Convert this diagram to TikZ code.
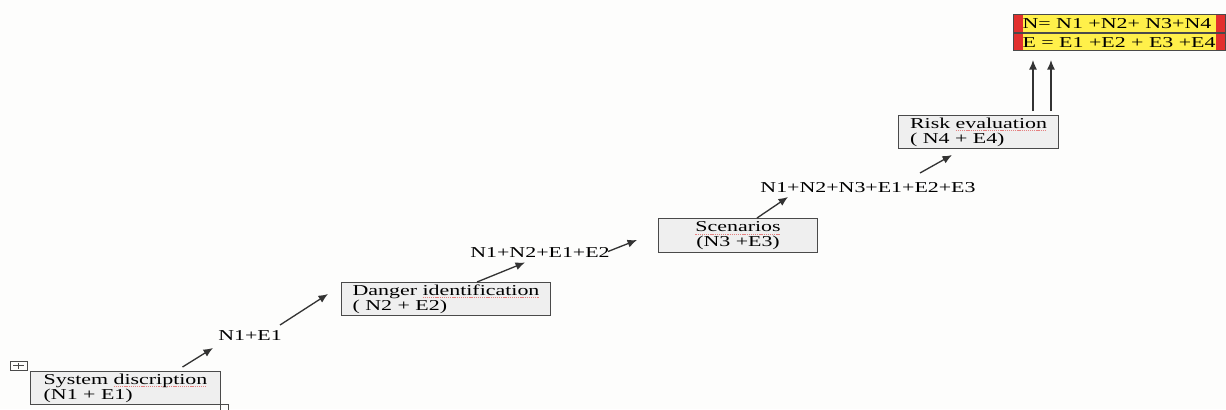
\documentclass[tikz,border=0pt]{standalone}
\usepackage{fontspec}
\setmainfont[FakeStretch=1.45]{Liberation Serif}
\usepackage{xcolor}
\usepackage{tikz}
\usetikzlibrary{arrows.meta,calc}
\definecolor{RBPaper}{HTML}{FDFDFC}
\definecolor{RBBox}{HTML}{EFEFEF}
\definecolor{RBLine}{HTML}{4A4A4A}
\definecolor{RBArrow}{HTML}{333333}
\definecolor{RBRed}{HTML}{E2302E}
\definecolor{RBYellow}{HTML}{FFF04A}
\definecolor{RBSpell}{HTML}{E58080}
\newcommand{\spellerr}[1]{\setbox0\hbox{#1}\rlap{\raisebox{-1.6pt}{\color{RBSpell}%
  \hbox to \wd0{\xleaders\hbox{\rule{0.7pt}{0.35pt}\hskip0.5pt}\hfill}}}\box0}

\begin{document}
\begin{tikzpicture}[x=0.02cm,y=-0.02cm,
  font=\fontsize{8.6pt}{8.5pt}\selectfont,
  stepbox/.style={draw=RBLine,line width=.6pt,fill=RBBox,anchor=north west,
    align=left,inner ysep=0.5pt,minimum height=0.66cm},
  sumlabel/.style={inner sep=0pt},
  resrow/.style={draw=RBLine,line width=.6pt,fill=RBRed,anchor=north west,
    inner xsep=0.18cm,inner ysep=0pt,minimum width=4.24cm,
    path picture={\fill[RBYellow]
      ([xshift=0.18cm]path picture bounding box.south west) rectangle
      ([xshift=-0.2cm]path picture bounding box.north east);}},
  arr/.style={RBArrow,line width=.75pt,-{Latex[length=5.4pt,width=4.6pt]}}]
\path[use as bounding box] (0,0) rectangle (1226,409);
\fill[RBPaper] (0,0) rectangle (1226,409);
\draw[RBLine,line width=.5pt] (10,361) rectangle (27,370);
\draw[RBLine,line width=.5pt] (18.5,362.5) -- (18.5,368.5) (13,365.5) -- (24,365.5);
\draw[RBLine,line width=.5pt] (220,404) rectangle (228,414);
\node[stepbox,minimum width=3.8cm] (sys) at (30,371)
  {System~\spellerr{discription}\\(N1 + E1)};
\node[sumlabel] (lab1) at (250,336) {N1+E1};
\node[stepbox,minimum width=4.18cm] (dang) at (341,282)
  {Danger~\spellerr{identification}\\( N2 + E2)};
\node[sumlabel] (lab2) at (540,252.5) {N1+N2+E1+E2};
\node[stepbox,minimum width=3.18cm,minimum height=0.68cm,align=center] (scen) at (658,218)
  {\spellerr{Scenarios}\\(N3 +E3)};
\node[sumlabel] (lab3) at (868,188) {N1+N2+N3+E1+E2+E3};
\node[stepbox,minimum width=3.2cm] (risk) at (898,115)
  {Risk~\spellerr{evaluation}\\( N4 + E4)};
\node[resrow,minimum height=0.36cm] (resN) at (1013,14)
  {\makebox[3.88cm][l]{N= N1 +N2+ N3+N4}};
\node[resrow,minimum height=0.34cm] (resE) at (resN.south west)
  {\makebox[3.88cm][l]{E = E1 +E2 + E3 +E4}};
\draw[arr] ($(sys.north)+(57,-4)$) -- ($(lab1.center)+(-37,12)$);
\draw[arr] ($(lab1.center)+(30,-11)$) -- ($(dang.north west)+(-13,12)$);
\draw[arr] ($(dang.north west)+(136,0)$) -- ($(lab2.center)+(-15,10)$);
\draw[arr] ($(lab2.center)+(68,-1)$) -- ($(scen.north west)+(-21,22)$);
\draw[arr] ($(scen.north west)+(99,0)$) -- ($(lab3.center)+(-80,9)$);
\draw[arr] ($(lab3.center)+(52,-15)$) -- ($(risk.south west)+(54,6)$);
\draw[arr] ($(risk.north west)+(135,-4)$) -- ($(resE.south west)+(20,9)$);
\draw[arr] ($(risk.north west)+(153,-4)$) -- ($(resE.south west)+(38,9)$);
\end{tikzpicture}
\end{document}
